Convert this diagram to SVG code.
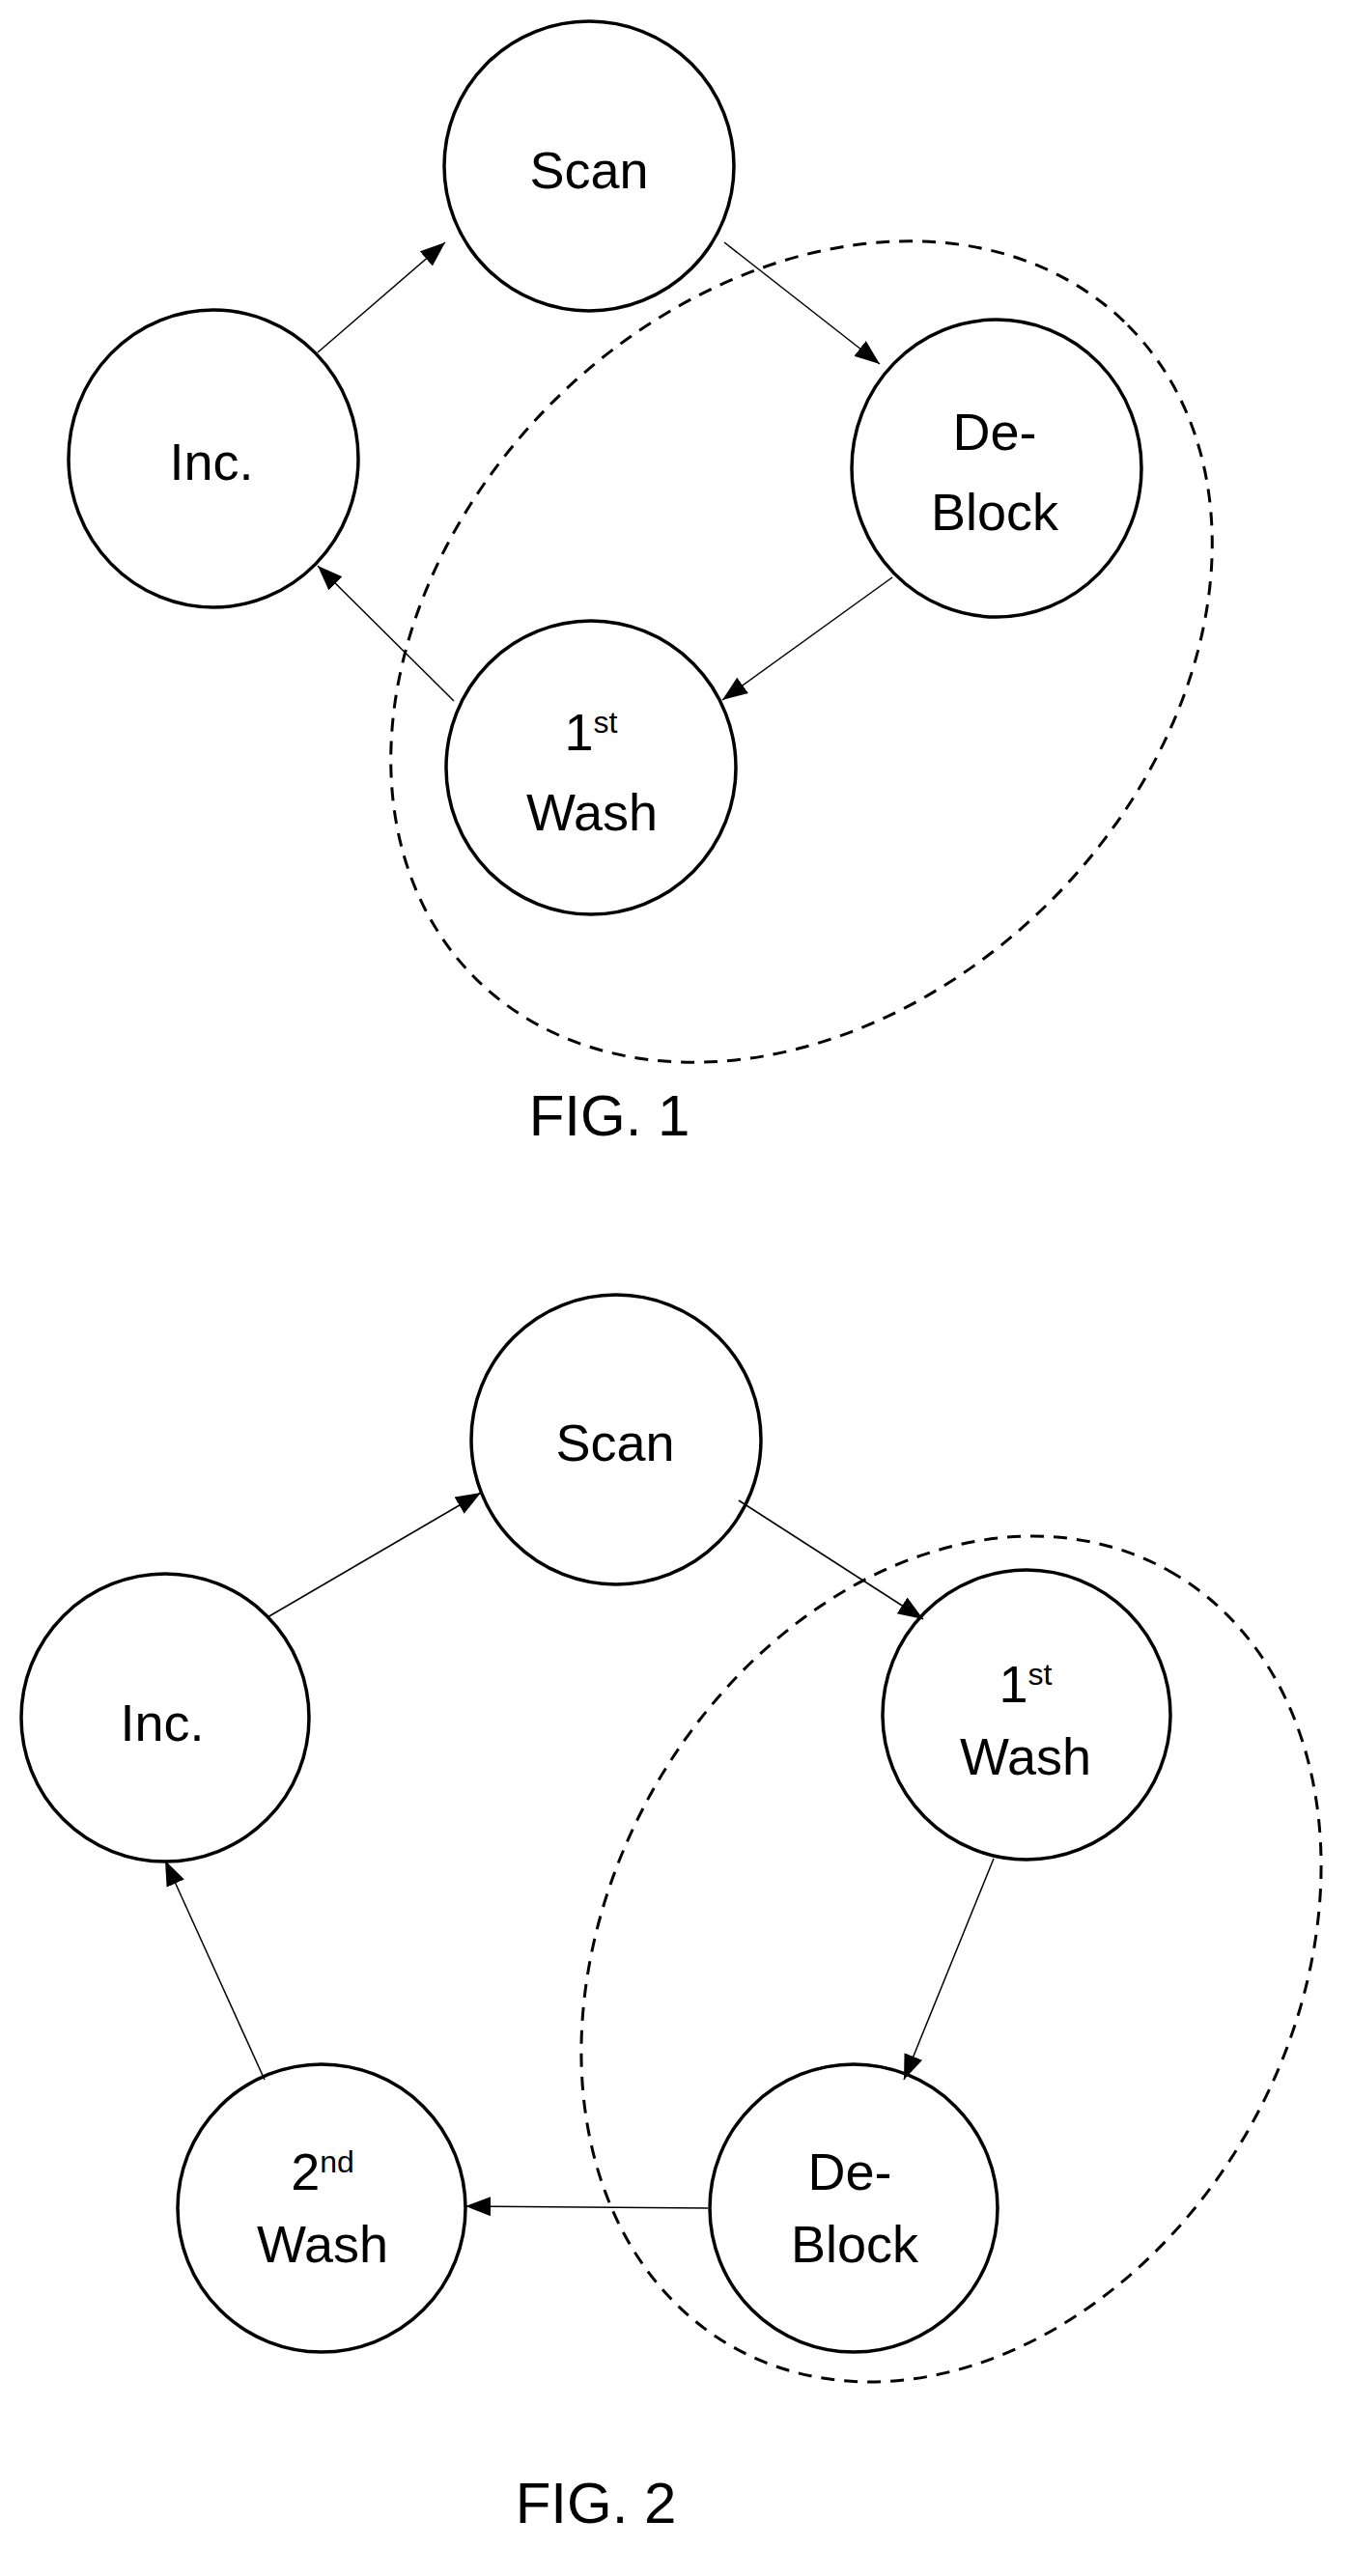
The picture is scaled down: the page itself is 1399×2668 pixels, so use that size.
<svg xmlns="http://www.w3.org/2000/svg" width="1399" height="2668" viewBox="0 0 1399 2668">
<style>
.n{fill:#fff;stroke:#000;stroke-width:3.5}
.t{font-family:"Liberation Sans",Arial,sans-serif;font-size:54px;text-anchor:middle;fill:#000}
.s{font-size:32px}
.c{stroke:#000;stroke-width:1.5;fill:none;marker-end:url(#a)}
.d{fill:none;stroke:#000;stroke-width:3;stroke-dasharray:14 10}
.f{font-family:"Liberation Sans",Arial,sans-serif;font-size:60px;text-anchor:middle;fill:#000}
</style>
<defs>
<marker id="a" markerUnits="userSpaceOnUse" markerWidth="28" markerHeight="22" refX="26" refY="10" orient="auto">
<path d="M0,0 L26,10 L0,20 Z" fill="#000"/>
</marker>
</defs>
<rect width="1399" height="2668" fill="#fff"/>
<g id="group1"><ellipse class="d" cx="830" cy="675" rx="478" ry="365" transform="rotate(-45 830 675)"/></g>
<g id="group2"><ellipse class="d" cx="985" cy="2029" rx="461" ry="355" transform="rotate(-60.7 985 2029)"/></g>
<g id="f1-scan"><ellipse class="n" cx="610" cy="172" rx="150" ry="150"/><text class="t" x="610" y="195">Scan</text></g>
<g id="f1-inc"><ellipse class="n" cx="221" cy="475" rx="150" ry="154"/><text class="t" x="219" y="497">Inc.</text></g>
<g id="f1-deblock"><ellipse class="n" cx="1032" cy="485" rx="150" ry="154"/><text class="t" x="1030" y="466">De-</text><text class="t" x="1030" y="549">Block</text></g>
<g id="f1-wash1"><ellipse class="n" cx="612" cy="795" rx="150" ry="152"/><text class="t" x="612" y="777">1<tspan class="s" baseline-shift="super">st</tspan></text><text class="t" x="613" y="860">Wash</text></g>
<g id="f2-scan"><ellipse class="n" cx="638" cy="1491" rx="150" ry="150"/><text class="t" x="637" y="1513">Scan</text></g>
<g id="f2-inc"><ellipse class="n" cx="171" cy="1779" rx="149" ry="149"/><text class="t" x="168" y="1803">Inc.</text></g>
<g id="f2-wash1"><ellipse class="n" cx="1063" cy="1776" rx="149" ry="150"/><text class="t" x="1062" y="1763">1<tspan class="s" baseline-shift="super">st</tspan></text><text class="t" x="1062" y="1838">Wash</text></g>
<g id="f2-deblock"><ellipse class="n" cx="884" cy="2287" rx="149" ry="149"/><text class="t" x="880" y="2268">De-</text><text class="t" x="885" y="2343">Block</text></g>
<g id="f2-wash2"><ellipse class="n" cx="333" cy="2287" rx="149" ry="149"/><text class="t" x="334" y="2268">2<tspan class="s" baseline-shift="super">nd</tspan></text><text class="t" x="334" y="2343">Wash</text></g>
<g id="connectors">
<line class="c" x1="329" y1="365" x2="461" y2="251"/>
<line class="c" x1="750" y1="251" x2="911" y2="377"/>
<line class="c" x1="924" y1="598" x2="748" y2="725"/>
<line class="c" x1="470" y1="726" x2="329" y2="586"/>
<line class="c" x1="277" y1="1675" x2="498" y2="1546"/>
<line class="c" x1="765" y1="1554" x2="956" y2="1677"/>
<line class="c" x1="1029" y1="1925" x2="936" y2="2154"/>
<line class="c" x1="733" y1="2287" x2="482" y2="2285"/>
<line class="c" x1="274" y1="2154" x2="171" y2="1927"/>
</g>
<text class="f" x="631" y="1176">FIG. 1</text>
<text class="f" x="617" y="2613">FIG. 2</text>
</svg>
